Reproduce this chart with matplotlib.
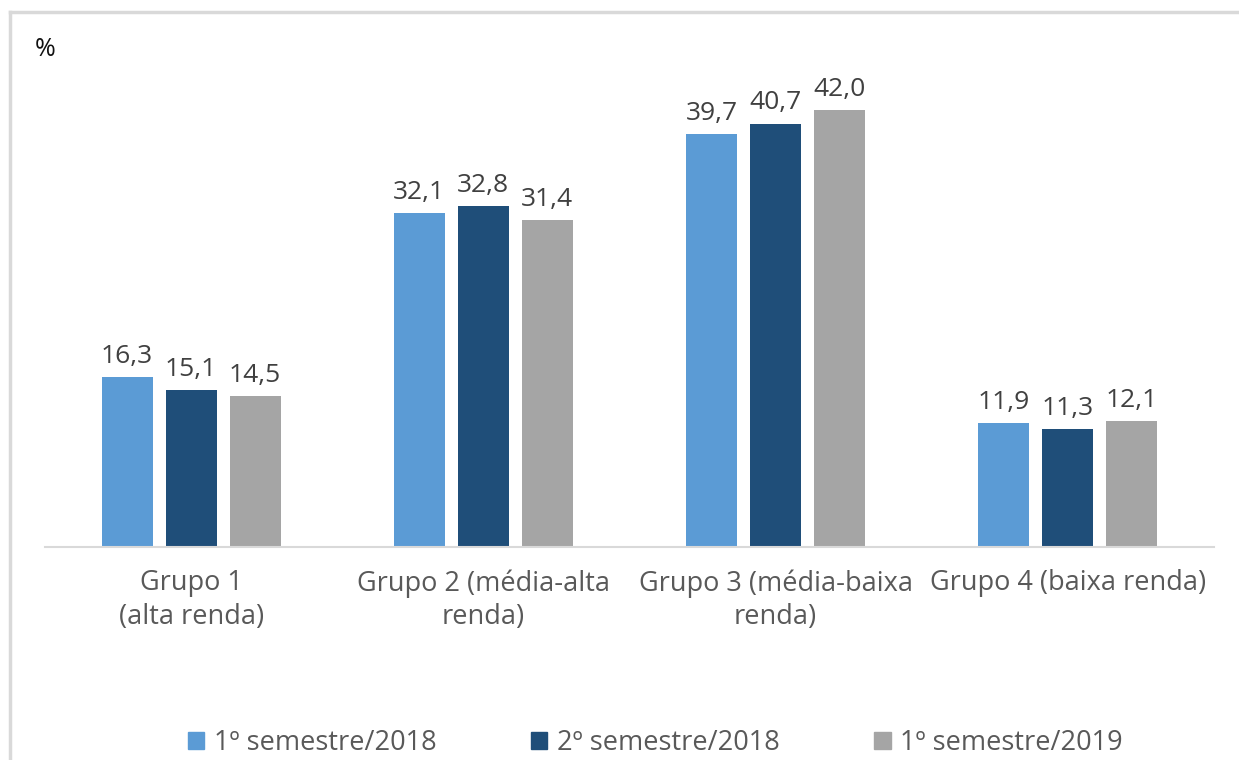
import matplotlib.pyplot as plt
import numpy as np
from matplotlib.lines import Line2D

plt.rcParams['font.family'] = ['Open Sans', 'DejaVu Sans']

grupos = ["Grupo 1\n(alta renda)", "Grupo 2 (média-alta\nrenda)",
          "Grupo 3 (média-baixa\nrenda)", "Grupo 4 (baixa renda)"]
series = ["1º semestre/2018", "2º semestre/2018", "1º semestre/2019"]
s1_2018 = [16.3, 32.1, 39.7, 11.9]
s2_2018 = [15.1, 32.8, 40.7, 11.3]
s1_2019 = [14.5, 31.4, 42.0, 12.1]
cores = ["#5B9BD5", "#1F4E79", "#A5A5A5"]

fig = plt.figure(figsize=(12.39, 7.6), dpi=100)
ax = fig.add_axes([0.0363, 0.2803, 0.9435, 0.6158])

x = np.arange(len(grupos))
off = 0.219
w = 0.175
for i, (vals, lab) in enumerate(zip([s1_2018, s2_2018, s1_2019], series)):
    bars = ax.bar(x + (i - 1) * off, vals, w, color=cores[i], label=lab)
    for b, v in zip(bars, vals):
        ax.annotate(f"{v:.1f}".replace(".", ","), (b.get_x() + b.get_width() / 2, v),
                    xytext=(0, 6), textcoords="offset points",
                    ha="center", va="bottom", fontsize=19, color="#404040")

ax.set_xlim(-0.5, 3.5)
ax.set_ylim(0, 45)
for s in ["top", "right", "left"]:
    ax.spines[s].set_visible(False)
ax.spines["bottom"].set_color("#d9d9d9")
ax.spines["bottom"].set_linewidth(1.5)
ax.set_yticks([])
ax.set_xticks(x)
ax.set_xticklabels(grupos, fontsize=19.5, color="#595959", linespacing=1.27)
ax.tick_params(axis="x", length=0, pad=16)

fig.text(35 / 1239, 1 - 50 / 760, "%", fontsize=18, color="#111111", va="center")

# moldura (só topo e esquerda aparecem)
fig.add_artist(Line2D([10 / 1239, 1], [1 - 12 / 760] * 2, color="#d9d9d9", lw=2.5,
                      transform=fig.transFigure))
fig.add_artist(Line2D([10 / 1239] * 2, [0, 1 - 12 / 760], color="#d9d9d9", lw=2.5,
                      transform=fig.transFigure))

handles = [plt.Rectangle((0, 0), 1, 1, color=c) for c in cores]
fig.legend(handles, series, loc="center", bbox_to_anchor=(0.529, 1 - 743 / 760),
           ncol=3, frameon=False, fontsize=19.5, handlelength=0.6, handleheight=0.6,
           handletextpad=0.35, columnspacing=3.5, labelcolor="#595959")

fig.savefig("out.png", dpi=100)
